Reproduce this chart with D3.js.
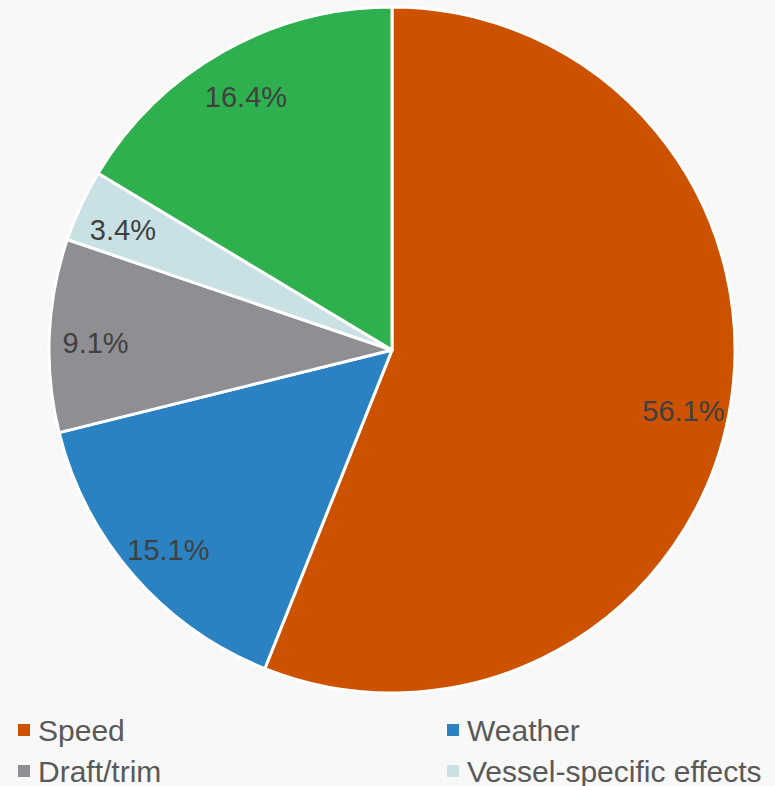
<!DOCTYPE html>
<html>
<head>
<meta charset="utf-8">
<script src="https://cdn.jsdelivr.net/npm/d3@7"></script>
<style>
  html, body { margin: 0; padding: 0; background: #f8f8f8; }
  svg { display: block; }
</style>
</head>
<body>
<svg id="chart" width="775" height="786"></svg>
<script>
// Share of variation by factor (percent), drawn clockwise from 12 o'clock
const categories = ["Speed", "Weather", "Draft/trim", "Vessel-specific effects", "Other"];
const shares = [56.1, 15.1, 9.1, 3.4, 16.4];
const colors = ["#cc5200", "#2a82c2", "#8f8f93", "#c9e1e4", "#2fb04f"];
const legendItems = categories.slice(0, 4);

const data = categories.map((c, i) => ({ name: c, value: shares[i], color: colors[i] }));

const svg = d3.select("#chart");
const cx = 392, cy = 350, radius = 343;

const pie = d3.pie().value(d => d.value).sort(null);
const arc = d3.arc().innerRadius(0).outerRadius(radius);
const labelArc = d3.arc().innerRadius(radius * 0.865).outerRadius(radius * 0.865);

const g = svg.append("g").attr("transform", `translate(${cx},${cy})`);
const arcs = pie(data);

g.selectAll("path.slice")
  .data(arcs)
  .join("path")
  .attr("class", "slice")
  .attr("d", arc)
  .attr("fill", d => d.data.color)
  .attr("stroke", "#ffffff")
  .attr("stroke-width", 3)
  .attr("stroke-linejoin", "round");

g.selectAll("text.pct")
  .data(arcs)
  .join("text")
  .attr("class", "pct")
  .attr("transform", d => `translate(${labelArc.centroid(d)})`)
  .attr("text-anchor", "middle")
  .attr("dy", "0.53em")
  .attr("font-family", "Liberation Sans, Arial, sans-serif")
  .attr("font-size", 29)
  .attr("fill", "#404040")
  .text(d => d.data.value.toFixed(1) + "%");

// Legend: two columns, two rows
const legend = svg.append("g").attr("class", "legend");
const colX = [18, 447];
const rowY = [730, 771];
const item = legend.selectAll("g.item")
  .data(legendItems)
  .join("g")
  .attr("class", "item")
  .attr("transform", (d, i) => `translate(${colX[i % 2]},${rowY[Math.floor(i / 2)]})`);

item.append("rect")
  .attr("x", 0).attr("y", -6)
  .attr("width", 12).attr("height", 12)
  .attr("fill", (d, i) => colors[i]);

item.append("text")
  .attr("x", 20)
  .attr("y", 0)
  .attr("dy", "0.35em")
  .attr("font-family", "Liberation Sans, Arial, sans-serif")
  .attr("font-size", 30)
  .attr("fill", "#595959")
  .text(d => d);
</script>
</body>
</html>
